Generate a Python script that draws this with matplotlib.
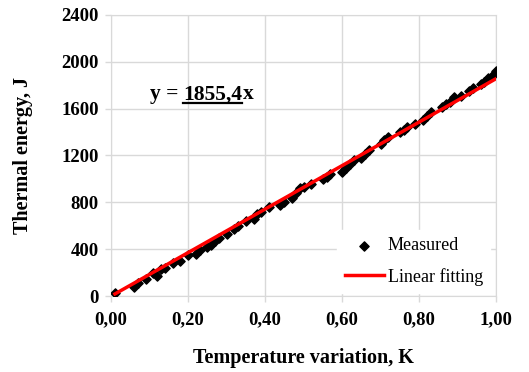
import matplotlib
matplotlib.use('Agg')
import numpy as np
from matplotlib import pyplot as plt
from matplotlib.lines import Line2D

# measured points (temperature variation, thermal energy)
temp_var = [0.01, 0.06, 0.07, 0.09, 0.11, 0.12, 0.13, 0.14, 0.16, 0.18,
            0.20, 0.22, 0.23, 0.25, 0.26, 0.27, 0.28, 0.30, 0.32, 0.33,
            0.35, 0.37, 0.38, 0.39, 0.41, 0.44, 0.45, 0.47, 0.48, 0.49,
            0.50, 0.52, 0.55, 0.56, 0.57, 0.60, 0.61, 0.62, 0.63, 0.65,
            0.66, 0.67, 0.70, 0.71, 0.72, 0.75, 0.76, 0.77, 0.79, 0.81,
            0.82, 0.83, 0.86, 0.87, 0.88, 0.89, 0.91, 0.93, 0.94, 0.96,
            0.97, 0.98, 0.99, 1.00]
energy = [30, 80, 110, 150, 200, 170, 230, 240, 280, 300,
          350, 360, 390, 420, 440, 470, 500, 530, 570, 600,
          640, 660, 700, 720, 760, 780, 800, 840, 880, 920,
          930, 960, 1000, 1020, 1040, 1060, 1090, 1130, 1160, 1180,
          1210, 1250, 1300, 1330, 1360, 1400, 1420, 1440, 1470, 1500,
          1540, 1570, 1610, 1640, 1660, 1700, 1710, 1750, 1780, 1810,
          1830, 1860, 1880, 1920]

slope = 1855.4
fit_x = [0.01, 1.00]

x_ticks = [0.0, 0.2, 0.4, 0.6, 0.8, 1.0]
x_labels = ['0,00', '0,20', '0,40', '0,60', '0,80', '1,00']
y_ticks = [0, 400, 800, 1200, 1600, 2000, 2400]

plt.rcParams['font.family'] = 'Liberation Serif'

fig = plt.figure(figsize=(5.29, 3.72), dpi=100)
ax = fig.add_axes([0.21, 0.204, 0.7276, 0.756])

ax.scatter(temp_var, energy, marker='D', s=22, color='black', zorder=3, label='Measured')
fx = np.array(fit_x)
ax.plot(fx, slope * fx, color='red', lw=2.5, zorder=4, label='Linear fitting')

ax.set_xlim(0, 1)
ax.set_ylim(0, 2400)
ax.set_xticks(x_ticks)
ax.set_xticklabels(x_labels)
ax.set_yticks(y_ticks)
ax.grid(True, color='#d9d9d9', lw=1)
ax.set_axisbelow(True)
for s in ax.spines.values():
    s.set_color('#d9d9d9')
ax.tick_params(colors='#d9d9d9', labelcolor='black', length=4, width=1)
ax.tick_params(axis='x', pad=7)
ax.tick_params(axis='y', pad=5)
for lab in ax.get_xticklabels() + ax.get_yticklabels():
    lab.set_fontsize(13.5)
    lab.set_fontweight('bold')

ax.set_xlabel('Temperature variation, K', fontsize=14.5, fontweight='bold', labelpad=14)
ax.set_ylabel('Thermal energy, J', fontsize=14.5, fontweight='bold', labelpad=20)

# equation text with underlined coefficient
eq_y = 1680
t1 = ax.text(0.1, eq_y, 'y = ', fontsize=15.5, fontweight='bold')
fig.canvas.draw()
r = fig.canvas.get_renderer()
bb1 = t1.get_window_extent(r)
inv = ax.transData.inverted()
x2 = inv.transform((bb1.x1, bb1.y0))[0]
t2 = ax.text(x2, eq_y, '1855,4', fontsize=15.5, fontweight='bold')
fig.canvas.draw()
bb2 = t2.get_window_extent(r)
x3 = inv.transform((bb2.x1, bb2.y0))[0]
ax.text(x3, eq_y, 'x', fontsize=15.5, fontweight='bold')
p0 = fig.transFigure.inverted().transform((bb2.x0, bb2.y0 + 1.5))
p1 = fig.transFigure.inverted().transform((bb2.x1, bb2.y0 + 1.5))
fig.add_artist(Line2D([p0[0], p1[0]], [p0[1], p1[1]], color='black', lw=1.6))

leg = ax.legend(loc='lower right', frameon=True, fontsize=13, handlelength=2.2,
                handletextpad=0.2, bbox_to_anchor=(0.99, 0.005),
                borderaxespad=0.1, labelspacing=0.75, facecolor='white', edgecolor='white',
                framealpha=1, fancybox=False)
leg.set_zorder(5)

fig.savefig('out.png', dpi=100)
